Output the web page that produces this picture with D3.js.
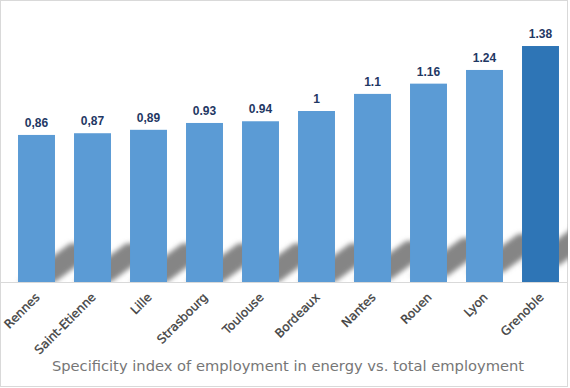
<!DOCTYPE html>
<html>
<head>
<meta charset="utf-8">
<script src="https://cdn.jsdelivr.net/npm/d3@7"></script>
<style>
  body { margin: 0; background: #fff; }
  svg { display: block; }
</style>
</head>
<body>
<svg id="chart"></svg>
<script>
// data
let cities = ["Rennes", "Saint-Etienne", "Lille", "Strasbourg", "Toulouse",
              "Bordeaux", "Nantes", "Rouen", "Lyon", "Grenoble"];
let values = [0.86, 0.87, 0.89, 0.93, 0.94, 1, 1.1, 1.16, 1.24, 1.38];
let valueLabels = ["0,86", "0,87", "0,89", "0.93", "0.94", "1", "1.1", "1.16", "1.24", "1.38"];
let highlight = "Grenoble";
let title = "Specificity index of employment in energy vs. total employment";

let width = 570;
let height = 388;

let svg = d3.select("#chart")
    .attr("width", width)
    .attr("height", height);

let rows = cities.map((c, i) => ({ city: c, value: values[i], label: valueLabels[i] }));

let scaleX = d3.scaleBand()
    .domain(cities)
    .range([8.5, 568.5])
    .paddingInner(0.34)
    .paddingOuter(0.17);

let scaleY = d3.scaleLinear()
    .domain([0, 1.6])
    .range([282, 8.4]);

// blur for the floor shadows
let defs = svg.append("defs");
defs.append("filter")
    .attr("id", "blur")
    .attr("x", "-50%").attr("y", "-50%")
    .attr("width", "200%").attr("height", "200%")
    .append("feGaussianBlur")
    .attr("stdDeviation", 2.6);
defs.append("clipPath")
    .attr("id", "plotclip")
    .append("rect")
    .attr("x", 0).attr("y", 0)
    .attr("width", 568).attr("height", scaleY(0));

// frame
svg.append("rect")
    .attr("x", 0.5).attr("y", 0.5)
    .attr("width", 567).attr("height", 386)
    .attr("fill", "#fff")
    .attr("stroke", "#d9d9d9");

// shadows slanting up to the right
let slope = 0.74, run = 52;
svg.append("g")
    .attr("clip-path", "url(#plotclip)")
    .selectAll("polygon")
    .data(rows)
    .enter()
    .append("polygon")
    .attr("points", function(d) {
      let x0 = scaleX(d.city), x1 = x0 + scaleX.bandwidth();
      let lift = Math.max(0, d.value - 1.05) * 50;
      let b = scaleY(0) - lift;
      return [[x0, b], [x1, b], [x1 + run, b - run * slope], [x0 + run, b - run * slope]]
        .map(p => p.join(",")).join(" ");
    })
    .attr("fill", "#858585")
    .attr("filter", "url(#blur)");

// baseline
svg.append("line")
    .attr("x1", 1).attr("x2", 567)
    .attr("y1", scaleY(0) + 0.5).attr("y2", scaleY(0) + 0.5)
    .attr("stroke", "#d9d9d9");

// bars
svg.selectAll(".bar")
    .data(rows)
    .enter()
    .append("rect")
    .attr("class", "bar")
    .attr("x", d => scaleX(d.city))
    .attr("y", d => scaleY(d.value))
    .attr("width", scaleX.bandwidth())
    .attr("height", d => scaleY(0) - scaleY(d.value))
    .attr("fill", d => d.city === highlight ? "#2e75b6" : "#5b9bd5");

// value labels
svg.selectAll(".val")
    .data(rows)
    .enter()
    .append("text")
    .attr("class", "val")
    .attr("x", d => scaleX(d.city) + scaleX.bandwidth() / 2)
    .attr("y", d => scaleY(d.value) - 8)
    .attr("text-anchor", "middle")
    .style("font-family", "'Liberation Sans', Arial, sans-serif")
    .style("font-weight", "bold")
    .style("font-size", "12px")
    .style("fill", "#1f3864")
    .text(d => d.label);

// category axis labels
let axisX = d3.axisBottom(scaleX).tickSize(0).tickPadding(0);
let gx = svg.append("g")
    .attr("transform", `translate(0, ${scaleY(0)})`)
    .call(axisX);
gx.select(".domain").remove();
gx.selectAll("text")
    .attr("dy", 0)
    .attr("y", 0)
    .attr("transform", "translate(4, 16) rotate(-45)")
    .style("text-anchor", "end")
    .style("font-family", "'DejaVu Sans', sans-serif")
    .style("font-size", "12px")
    .style("fill", "#404040")
    .style("stroke", "#404040")
    .style("stroke-width", "0.3px");

// title
svg.append("text")
    .attr("x", 288)
    .attr("y", 371)
    .attr("text-anchor", "middle")
    .style("font-family", "'DejaVu Sans', sans-serif")
    .style("font-size", "14.7px")
    .style("fill", "#767676")
    .text(title);
</script>
</body>
</html>
